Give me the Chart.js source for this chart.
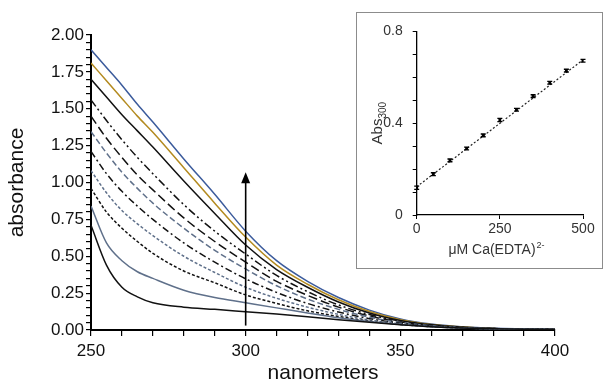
<!DOCTYPE html>
<html>
<head>
<meta charset="utf-8">
<script src="https://cdn.jsdelivr.net/npm/chart.js@4.4.1/dist/chart.umd.min.js"></script>
<style>
  body { margin: 0; background: #fff; }
  #wrap { position: relative; width: 606px; height: 379px; }
  #inset { position: absolute; left: 356px; top: 12px; width: 245px; height: 255px; border: 1px solid #8c8c8c; background: #fff; }
</style>
</head>
<body>
<div id="wrap">
  <canvas id="main" width="606" height="379"></canvas>
  <div id="inset"><canvas id="insetChart" width="245" height="255"></canvas></div>
</div>
<script>
// spectra, absorbance vs wavelength for each Ca(EDTA) concentration
const wavelengths = [250, 255, 260, 265, 270, 280, 290, 300, 310, 320, 330, 340, 350, 360, 370, 380, 390, 400];
const abs0   = [0.71, 0.44, 0.29, 0.225, 0.185, 0.155, 0.14, 0.124, 0.108, 0.09, 0.07, 0.052, 0.036, 0.022, 0.013, 0.008, 0.005, 0.004];
const abs50  = [0.84, 0.59, 0.47, 0.395, 0.35, 0.27, 0.22, 0.185, 0.15, 0.115, 0.083, 0.057, 0.037, 0.022, 0.013, 0.008, 0.005, 0.004];
const abs100 = [0.96, 0.80, 0.69, 0.60, 0.52, 0.40, 0.32, 0.238, 0.18, 0.13, 0.092, 0.06, 0.038, 0.023, 0.013, 0.008, 0.005, 0.004];
const abs150 = [1.08, 0.93, 0.81, 0.72, 0.64, 0.50, 0.39, 0.29, 0.215, 0.155, 0.106, 0.068, 0.042, 0.025, 0.014, 0.008, 0.005, 0.004];
const abs200 = [1.21, 1.06, 0.94, 0.84, 0.75, 0.59, 0.46, 0.347, 0.255, 0.18, 0.122, 0.077, 0.046, 0.027, 0.015, 0.009, 0.006, 0.004];
const abs250 = [1.345, 1.20, 1.07, 0.96, 0.86, 0.69, 0.54, 0.414, 0.30, 0.21, 0.14, 0.087, 0.051, 0.029, 0.016, 0.009, 0.006, 0.004];
const abs300 = [1.45, 1.30, 1.17, 1.05, 0.95, 0.76, 0.60, 0.46, 0.33, 0.235, 0.155, 0.095, 0.055, 0.031, 0.017, 0.01, 0.006, 0.004];
const abs350 = [1.56, 1.42, 1.29, 1.17, 1.06, 0.85, 0.67, 0.515, 0.37, 0.26, 0.17, 0.105, 0.06, 0.033, 0.018, 0.01, 0.006, 0.004];
const abs400 = [1.70, 1.58, 1.46, 1.35, 1.24, 1.01, 0.79, 0.576, 0.41, 0.29, 0.19, 0.115, 0.065, 0.035, 0.019, 0.011, 0.007, 0.005];
const abs450 = [1.81, 1.69, 1.57, 1.45, 1.34, 1.10, 0.86, 0.63, 0.44, 0.31, 0.205, 0.125, 0.07, 0.037, 0.02, 0.011, 0.007, 0.005];
const abs500 = [1.90, 1.78, 1.66, 1.53, 1.41, 1.16, 0.92, 0.67, 0.47, 0.33, 0.22, 0.135, 0.075, 0.04, 0.022, 0.012, 0.008, 0.005];

// inset: absorbance at 300 nm vs concentration
const concentrations = [0, 50, 100, 150, 200, 250, 300, 350, 400, 450, 500];
const abs300nm = [0.119, 0.178, 0.238, 0.290, 0.347, 0.414, 0.459, 0.518, 0.576, 0.629, 0.672];
const abs300err = [0.007, 0.006, 0.006, 0.006, 0.006, 0.007, 0.006, 0.006, 0.006, 0.006, 0.006];
const fitX = [0, 500];
const fitY = [0.123, 0.676];

const FONT = "'Liberation Sans', Arial, sans-serif";
const BLACK = '#111';
const SLATE = '#5f708a';

function pts(ys) {
    return wavelengths.map((w, i) => ({ x: w, y: ys[i] }));
}

const spectra = [
    { data: abs0,   color: BLACK, dash: [] },
    { data: abs50,  color: SLATE, dash: [] },
    { data: abs100, color: BLACK, dash: [3, 2] },
    { data: abs150, color: SLATE, dash: [3, 2] },
    { data: abs200, color: BLACK, dash: [7, 3, 2, 3] },
    { data: abs250, color: SLATE, dash: [6, 3] },
    { data: abs300, color: BLACK, dash: [9, 4] },
    { data: abs350, color: BLACK, dash: [8, 3, 2, 3, 2, 3] },
    { data: abs400, color: BLACK, dash: [] },
    { data: abs450, color: '#b38a1f', dash: [] },
    { data: abs500, color: '#3b5b9c', dash: [] }
];

const arrowPlugin = {
    id: 'arrow',
    afterDatasetsDraw(chart) {
        const ctx = chart.ctx;
        const x = chart.scales.x.getPixelForValue(300);
        const yBottom = chart.scales.y.getPixelForValue(0.03);
        const yTip = chart.scales.y.getPixelForValue(1.07);
        ctx.save();
        ctx.strokeStyle = '#000';
        ctx.fillStyle = '#000';
        ctx.lineWidth = 1.6;
        ctx.beginPath();
        ctx.moveTo(x, yBottom);
        ctx.lineTo(x, yTip + 8);
        ctx.stroke();
        ctx.beginPath();
        ctx.moveTo(x, yTip);
        ctx.lineTo(x - 4.5, yTip + 11);
        ctx.lineTo(x + 4.5, yTip + 11);
        ctx.closePath();
        ctx.fill();
        ctx.restore();
    }
};

new Chart(document.getElementById('main'), {
    type: 'line',
    data: {
        datasets: spectra.map(s => ({
            data: pts(s.data),
            borderColor: s.color,
            borderDash: s.dash,
            borderWidth: 1.5,
            pointRadius: 0,
            cubicInterpolationMode: 'monotone',
            fill: false
        }))
    },
    options: {
        responsive: false,
        animation: false,
        layout: { padding: { top: 35, right: 51, left: 0, bottom: 0 } },
        plugins: { legend: { display: false }, tooltip: { enabled: false } },
        scales: {
            x: {
                type: 'linear',
                min: 250,
                max: 400,
                afterFit: s => { s.height = 49; },
                ticks: {
                    stepSize: 10,
                    autoSkip: false,
                    maxRotation: 0,
                    padding: 5,
                    color: '#111',
                    font: { family: FONT, size: 17 },
                    callback: v => (v % 50 === 0 ? String(v) : '')
                },
                grid: { drawOnChartArea: false, tickLength: 6, color: '#000', lineWidth: 1.2 },
                border: { color: '#000', width: 2 },
                title: { display: true, text: 'nanometers', color: '#111', font: { family: FONT, size: 21 }, padding: { top: 0, bottom: -7 } }
            },
            y: {
                min: 0,
                max: 2,
                afterFit: s => { s.width = 91; },
                ticks: {
                    stepSize: 0.05,
                    autoSkip: false,
                    padding: 2,
                    color: '#111',
                    font: { family: FONT, size: 17 },
                    callback: v => {
                        const q = v / 0.25;
                        return Math.abs(q - Math.round(q)) < 1e-6 ? v.toFixed(2) : '';
                    }
                },
                grid: { drawOnChartArea: false, tickLength: 5, color: '#000', lineWidth: 1.2 },
                border: { color: '#000', width: 2 },
                title: { display: true, text: 'absorbance', color: '#111', font: { family: FONT, size: 21 }, padding: { top: 5, bottom: 5 } }
            }
        }
    },
    plugins: [arrowPlugin]
});

// inset extras: error bars and the sub/superscript axis titles
const insetDecor = {
    id: 'insetDecor',
    afterDatasetsDraw(chart) {
        const ctx = chart.ctx;
        const xs = chart.scales.x, ys = chart.scales.y;
        ctx.save();
        ctx.strokeStyle = '#000';
        ctx.lineWidth = 1.3;
        concentrations.forEach((c, i) => {
            const px = xs.getPixelForValue(c);
            const top = ys.getPixelForValue(abs300nm[i] + abs300err[i]);
            const bot = ys.getPixelForValue(abs300nm[i] - abs300err[i]);
            ctx.beginPath();
            ctx.moveTo(px, top); ctx.lineTo(px, bot);
            ctx.moveTo(px - 2.5, top); ctx.lineTo(px + 2.5, top);
            ctx.moveTo(px - 2.5, bot); ctx.lineTo(px + 2.5, bot);
            ctx.stroke();
        });
        ctx.restore();
    },
    afterDraw(chart) {
        const ctx = chart.ctx;
        const area = chart.chartArea;
        ctx.save();
        ctx.fillStyle = '#333';
        ctx.textBaseline = 'alphabetic';
        // x title
        const main = '\u03bcM Ca(EDTA)';
        const sup = '2-';
        ctx.font = '14px ' + FONT;
        const w1 = ctx.measureText(main).width;
        ctx.font = '9px ' + FONT;
        const w2 = ctx.measureText(sup).width;
        let x0 = 139 - (w1 + w2) / 2;
        const yb = 241;
        ctx.font = '14px ' + FONT;
        ctx.fillText(main, x0, yb);
        ctx.font = '9px ' + FONT;
        ctx.fillText(sup, x0 + w1 + 1, yb - 6);
        // y title, rotated
        ctx.translate(25, (area.top + area.bottom) / 2);
        ctx.rotate(-Math.PI / 2);
        ctx.font = '15px ' + FONT;
        const a1 = ctx.measureText('Abs').width;
        ctx.font = '10px ' + FONT;
        const a2 = ctx.measureText('300').width;
        const sx = -(a1 + a2) / 2;
        ctx.font = '15px ' + FONT;
        ctx.fillText('Abs', sx, 0);
        ctx.font = '10px ' + FONT;
        ctx.fillText('300', sx + a1, 4);
        ctx.restore();
    }
};

new Chart(document.getElementById('insetChart'), {
    type: 'scatter',
    data: {
        datasets: [
            {
                data: concentrations.map((c, i) => ({ x: c, y: abs300nm[i] })),
                pointStyle: 'rect',
                pointRadius: 2,
                backgroundColor: '#000',
                borderColor: '#000',
                borderWidth: 0
            },
            {
                type: 'line',
                data: fitX.map((x, i) => ({ x: x, y: fitY[i] })),
                borderColor: '#222',
                borderDash: [2, 2],
                borderWidth: 1.2,
                pointRadius: 0,
                fill: false
            }
        ]
    },
    options: {
        responsive: false,
        animation: false,
        layout: { padding: { top: 16, right: 19, left: 0, bottom: 0 } },
        plugins: { legend: { display: false }, tooltip: { enabled: false } },
        scales: {
            x: {
                type: 'linear',
                min: 0,
                max: 500,
                afterFit: s => { s.height = 53; },
                ticks: { stepSize: 250, maxRotation: 0, padding: 2, color: '#333', font: { family: FONT, size: 14 } },
                grid: { drawOnChartArea: false, tickLength: 4, color: '#000', lineWidth: 1 },
                border: { color: '#000', width: 1.3 }
            },
            y: {
                min: 0,
                max: 0.8,
                afterFit: s => { s.width = 59.7; },
                ticks: {
                    stepSize: 0.1,
                    autoSkip: false,
                    padding: 10,
                    color: '#333',
                    font: { family: FONT, size: 14 },
                    callback: v => {
                        const q = v / 0.4;
                        return Math.abs(q - Math.round(q)) < 1e-6 ? String(Math.round(v * 10) / 10) : '';
                    }
                },
                grid: { drawOnChartArea: false, tickLength: 4, color: '#000', lineWidth: 1 },
                border: { color: '#000', width: 1.3 }
            }
        }
    },
    plugins: [insetDecor]
});
</script>
</body>
</html>
